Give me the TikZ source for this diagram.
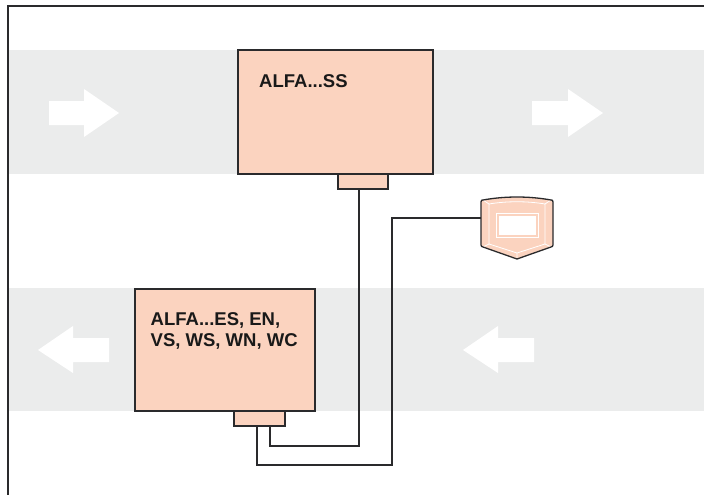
\documentclass[tikz,border=0pt]{standalone}
\usepackage{xcolor}
\usepackage{fontspec}
\setmainfont{Liberation Sans}
\usetikzlibrary{calc}
\definecolor{bandgray}{HTML}{EBECEC}
\definecolor{unitpeach}{HTML}{FBD3BF}
\definecolor{inkdark}{HTML}{2A2A2C}
\tikzset{
  unitbox/.style={draw=inkdark, fill=unitpeach, line width=1.5pt, inner sep=0pt, outer sep=0pt},
  wire/.style={draw=inkdark, line width=1.2pt},
  unitlabel/.style={anchor=base west, inner sep=0pt, font=\fontsize{18.5}{21}\selectfont\bfseries, text=black!90},
  flowarrow/.style={fill=white},
  shieldline/.style={draw=white, line width=0.8pt}
}

\begin{document}
\begin{tikzpicture}[x=1pt,y=-1pt]
\useasboundingbox (0,0) rectangle (704,495);

% Bands
\fill[bandgray] (8,50) rectangle (704,174);
\fill[bandgray] (8,288) rectangle (704,411);

% Frame
\draw[inkdark, line width=1.8pt] (8,495) -- (8,6) -- (704,6);

% Flow arrows
\fill[flowarrow] (49,101) -- (84,101) -- (84,89) -- (119,113) -- (84,137) -- (84,125) -- (49,125) -- cycle;
\fill[flowarrow] (532,101) -- (568,101) -- (568,89) -- (603,113) -- (568,137) -- (568,125) -- (532,125) -- cycle;
\fill[flowarrow] (109,338) -- (73,338) -- (73,326) -- (38,350) -- (73,373) -- (73,362) -- (109,362) -- cycle;
\fill[flowarrow] (534,338) -- (498,338) -- (498,326) -- (463,350) -- (498,373) -- (498,362) -- (534,362) -- cycle;

% Units
\node[unitbox, minimum width=195pt, minimum height=124pt] (topunit) at (335.5,112) {};
\node[unitbox, minimum width=180pt, minimum height=122pt] (lowunit) at (225,350) {};
\node[unitbox, minimum width=50pt, minimum height=15pt] (topport) at (363,181.5) {};
\node[unitbox, minimum width=51pt, minimum height=15pt] (lowport) at (259.5,418.5) {};

\node[unitlabel] (toplabel) at (259,88) {ALFA...SS};
\node[unitlabel] (lowlabelA) at (150.5,325) {ALFA...ES, EN,};
\node[unitlabel] (lowlabelB) at (150.5,346) {VS, WS, WN, WC};

% Control device
\fill[unitpeach] (481,202) .. controls (481,200) and (482,200) .. (483,200) .. controls (505,196) and (529,196) .. (551,200) .. controls (552,200) and (553,200) .. (553,202) -- (553,245) .. controls (553,246) and (552,247) .. (551,247) -- (517,259) -- (483,247) .. controls (482,247) and (481,246) .. (481,245) -- cycle;
\draw[shieldline] (489,204) .. controls (507,201) and (527,201) .. (545,204) -- (545,244) -- (517,253) -- (489,244) -- cycle;
\draw[shieldline] (483,200) -- (489,204) (551,200) -- (545,204) (483,247) -- (489,244) (551,247) -- (545,244) (517,259) -- (517,253);
\node[draw=white, line width=0.8pt, fill=unitpeach, minimum width=42pt, minimum height=24pt, inner sep=0pt] (devframe) at (517,225) {};
\node[fill=white, minimum width=37pt, minimum height=19pt, inner sep=0pt] (devwindow) at (517,225) {};
\draw[inkdark, line width=1.3pt] (481,202) .. controls (481,200) and (482,200) .. (483,200) .. controls (505,196) and (529,196) .. (551,200) .. controls (552,200) and (553,200) .. (553,202) -- (553,245) .. controls (553,246) and (552,247) .. (551,247) -- (517,259) -- (483,247) .. controls (482,247) and (481,246) .. (481,245) -- cycle;
\coordinate (devport) at (481,218);

% Wiring
\coordinate (bendA) at (359,446);
\coordinate (bendB) at (392,465);
\draw[wire] (topport.south -| bendA) -- (bendA) -- (270,446) -- (270,426);
\draw[wire] (devport) -- (devport -| bendB) -- (bendB) -- (257,465) -- (257,426);
\end{tikzpicture}
\end{document}
